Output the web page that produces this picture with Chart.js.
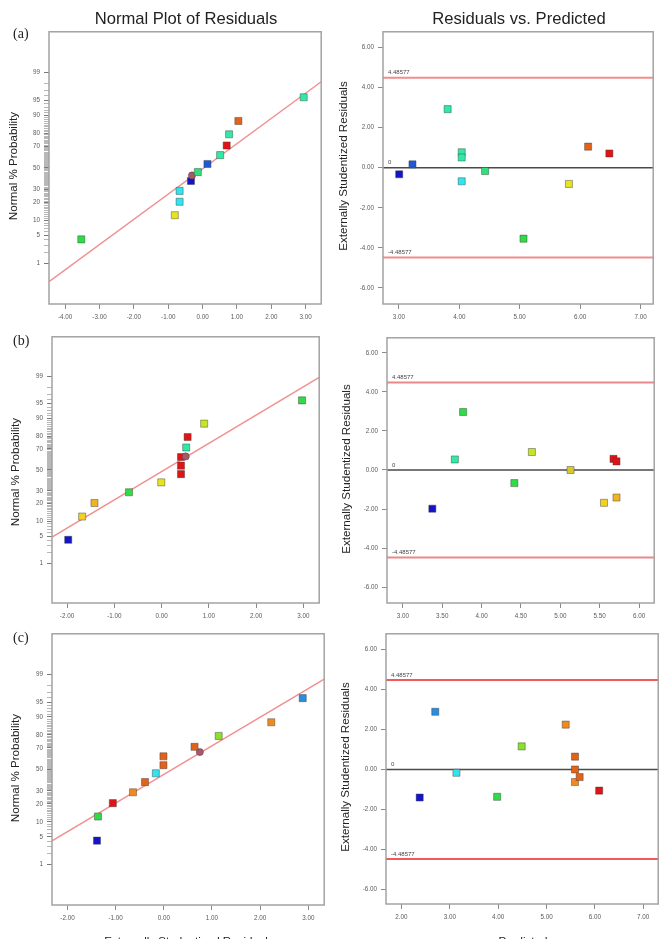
<!DOCTYPE html>
<html>
<head>
<meta charset="utf-8">
<script src="https://cdn.jsdelivr.net/npm/chart.js@4.4.1/dist/chart.umd.min.js"></script>
<style>
  html, body { margin:0; padding:0; background:#fff; width:665px; height:939px; overflow:hidden; }
  #root { position:relative; width:665px; height:939px; }
  canvas { position:absolute; }
  .t { position:absolute; white-space:nowrap; line-height:1; color:#222; font-family:"Liberation Sans", Arial, sans-serif; z-index:2; }
</style>
</head>
<body>
<div id="root"></div>
<script>
// ---------------- DATA ----------------
const probTickValues = Array.from({length: 99}, (_, i) => i + 1); // tick marks every 1 %
const probTickLabels = [1, 5, 10, 20, 30, 50, 70, 80, 90, 95, 99];
const limitValues = [4.48577, -4.48577];
const limitLabels = ["4.48577", "-4.48577"];
const residTicks = [-6, -4, -2, 0, 2, 4, 6];

// (a)
const aNormRes  = [-3.53, -0.81, -0.67, -0.67, -0.34, -0.31, -0.14, 0.14, 0.51, 0.70, 0.77, 1.04, 2.94];
const aNormProb = [4.1, 12.5, 20.5, 28.8, 37.5, 42.7, 45.9, 53.8, 62.2, 70.7, 79.3, 87.3, 95.7];
const aLineRes  = [-4.47, 3.45];
const aLineProb = [0.284, 98.19];
const aPred     = [3.005, 3.225, 3.807, 4.04, 4.04, 4.04, 4.427, 5.063, 5.815, 6.133, 6.484];
const aPredRes  = [-0.33, 0.165, 2.92, 0.77, 0.51, -0.68, -0.165, -3.54, -0.81, 1.05, 0.71];
const aNormXTicks = [-4, -3, -2, -1, 0, 1, 2, 3];
const aPredXTicks = [3, 4, 5, 6, 7];

// (b)
const bNormRes  = [-1.975, -1.68, -1.42, -0.69, -0.007, 0.41, 0.41, 0.41, 0.51, 0.52, 0.55, 0.90, 2.97];
const bNormProb = [4.1, 12.3, 20.5, 28.9, 37.8, 45.8, 54.2, 62.5, 63.1, 71.1, 79.3, 87.5, 95.8];
const bLineRes  = [-2.318, 3.333];
const bLineProb = [4.72, 98.93];
const bPred     = [3.374, 3.66, 3.765, 4.416, 4.639, 5.13, 5.555, 5.714, 5.676, 5.714];
const bPredRes  = [-1.98, 0.54, 2.97, -0.67, 0.92, 0.0, -1.68, -1.41, 0.57, 0.44];
const bNormXTicks = [-2, -1, 0, 1, 2, 3];
const bPredXTicks = [3, 3.5, 4, 4.5, 5, 5.5, 6];

// (c)
const cNormRes  = [-1.387, -1.367, -1.058, -0.639, -0.39, -0.165, -0.007, -0.007, 0.749, 0.639, 1.14, 2.232, 2.885];
const cNormProb = [4.1, 12.5, 20.5, 28.8, 37.8, 46.2, 54.1, 62.5, 66.4, 70.9, 79.3, 87.5, 95.9];
const cLineRes  = [-2.321, 3.331];
const cLineProb = [4.07, 98.63];
const cPred     = [2.377, 2.699, 3.137, 3.979, 4.486, 5.397, 5.589, 5.589, 5.589, 5.685, 6.089];
const cPredRes  = [-1.405, 2.89, -0.165, -1.37, 1.157, 2.248, 0.645, 0.0, -0.628, -0.38, -1.058];
const cNormXTicks = [-2, -1, 0, 1, 2, 3];
const cPredXTicks = [2, 3, 4, 5, 6, 7];

// ---------------- STYLES ----------------
const C = {
  darkBlue:'#1414c8', blue:'#1e5ad6', sky:'#2a8ee0', cyan:'#30e4f0', teal:'#32e8a6', greenTeal:'#30e07a',
  green:'#2edc46', lime:'#8ae02a', yellowGreen:'#c8e428', yellow:'#e6e41e', olive:'#d8c82a', goldYellow:'#f0d21e',
  gold:'#f0b41e', orange:'#f08a20', darkOrange:'#e2621a', red:'#e01414', circle:'#a85868'
};
const aNormColors = [C.green, C.yellow, C.cyan, C.cyan, C.darkBlue, C.circle, C.greenTeal, C.blue, C.teal, C.red, C.teal, C.darkOrange, C.teal];
const aPredColors = [C.darkBlue, C.blue, C.teal, C.teal, C.teal, C.cyan, C.greenTeal, C.green, C.yellow, C.darkOrange, C.red];
const bNormColors = [C.darkBlue, C.goldYellow, C.gold, C.green, C.yellow, C.red, C.red, C.red, C.circle, C.teal, C.red, C.yellowGreen, C.green];
const bPredColors = [C.darkBlue, C.teal, C.green, C.green, C.yellowGreen, C.olive, C.goldYellow, C.gold, C.red, C.red];
const cNormColors = [C.darkBlue, C.green, C.red, C.orange, C.darkOrange, C.cyan, C.darkOrange, C.darkOrange, C.circle, C.darkOrange, C.lime, C.orange, C.sky];
const cPredColors = [C.darkBlue, C.sky, C.cyan, C.green, C.lime, C.orange, C.darkOrange, C.darkOrange, C.orange, C.darkOrange, C.red];

const FONT = '"Liberation Sans", Arial, sans-serif';
Chart.defaults.font.family = FONT;

// inverse standard normal CDF (probit) used for the normal-probability axis
function invNorm(p){
  const a=[-3.969683028665376e+01,2.209460984245205e+02,-2.759285104469687e+02,1.383577518672690e+02,-3.066479806614716e+01,2.506628277459239e+00];
  const b=[-5.447609879822406e+01,1.615858368580409e+02,-1.556989798598866e+02,6.680131188771972e+01,-1.328068155288572e+01];
  const c=[-7.784894002430293e-03,-3.223964580411365e-01,-2.400758277161838e+00,-2.549671010115652e+00,4.374664141464968e+00,2.938163982698783e+00];
  const d=[7.784695709041462e-03,3.224671290700398e-01,2.445134137142996e+00,3.754408661907416e+00];
  const pl=0.02425, ph=1-pl; let q,r;
  if(p<pl){q=Math.sqrt(-2*Math.log(p));return (((((c[0]*q+c[1])*q+c[2])*q+c[3])*q+c[4])*q+c[5])/((((d[0]*q+d[1])*q+d[2])*q+d[3])*q+1);}
  if(p<=ph){q=p-0.5;r=q*q;return (((((a[0]*r+a[1])*r+a[2])*r+a[3])*r+a[4])*r+a[5])*q/(((((b[0]*r+b[1])*r+b[2])*r+b[3])*r+b[4])*r+1);}
  q=Math.sqrt(-2*Math.log(1-p));return -(((((c[0]*q+c[1])*q+c[2])*q+c[3])*q+c[4])*q+c[5])/((((d[0]*q+d[1])*q+d[2])*q+d[3])*q+1);
}

// ---------------- LAYOUT HELPERS ----------------
const root = document.getElementById('root');
const PADL = 36, PADB = 24, PADT = 4, PADR = 4;
const TICKFONT = {size: 6.3, family: FONT};
const TICKCOLOR = '#5a5a5a';

function addText(txt, x, y, opts){
  const d = document.createElement('div');
  d.className = 't';
  d.textContent = txt;
  d.style.fontSize = (opts.size || 12) + 'px';
  if (opts.family) d.style.fontFamily = opts.family;
  d.style.left = x + 'px';
  d.style.top = y + 'px';
  let tr = 'translate(-50%,-50%)';
  if (opts.rotate) tr += ' rotate(-90deg)';
  if (opts.anchor === 'left') tr = 'translate(0,-50%)';
  d.style.transform = tr;
  root.appendChild(d);
}

const boxPlugin = {
  id:'boxFrame',
  afterDraw(chart){
    const {ctx, chartArea:a} = chart;
    ctx.save();
    ctx.strokeStyle = '#a3a3a3';
    ctx.lineWidth = 1.5;
    ctx.strokeRect(a.left, a.top, a.right - a.left, a.bottom - a.top);
    ctx.restore();
  }
};

function refLinePlugin(limitColor){
  return {
    id:'refLines',
    beforeDatasetsDraw(chart){
      const {ctx, chartArea:a, scales:{y}} = chart;
      ctx.save();
      ctx.font = '6px ' + FONT;
      ctx.textBaseline = 'bottom';
      ctx.textAlign = 'left';
      limitValues.forEach((v, i) => {
        const py = y.getPixelForValue(v);
        ctx.strokeStyle = limitColor; ctx.lineWidth = 2;
        ctx.beginPath(); ctx.moveTo(a.left, py); ctx.lineTo(a.right, py); ctx.stroke();
        ctx.fillStyle = '#444';
        ctx.fillText(limitLabels[i], a.left + 5, py - 2);
      });
      const pz = y.getPixelForValue(0);
      ctx.strokeStyle = '#4a4a4a'; ctx.lineWidth = 1.5;
      ctx.beginPath(); ctx.moveTo(a.left, pz); ctx.lineTo(a.right, pz); ctx.stroke();
      ctx.fillStyle = '#444';
      ctx.fillText('0', a.left + 5, pz - 2);
      ctx.restore();
    }
  };
}

function makeCanvas(box){
  const cv = document.createElement('canvas');
  const w = (box.r - box.l) + PADL + PADR;
  const h = (box.b - box.t) + PADT + PADB;
  cv.width = w; cv.height = h;
  cv.style.width = w + 'px'; cv.style.height = h + 'px';
  cv.style.left = (box.l - PADL) + 'px';
  cv.style.top = (box.t - PADT) + 'px';
  root.appendChild(cv);
  return cv;
}

function xAxis(min, max, ticks){
  return {
    type:'linear', min, max,
    afterBuildTicks: s => { s.ticks = ticks.map(v => ({value: v})); },
    afterFit: s => { s.height = PADB; },
    ticks:{ autoSkip:false, maxRotation:0, padding:4, font:TICKFONT, color:TICKCOLOR, callback: v => Number(v).toFixed(2) },
    grid:{ drawOnChartArea:false, tickLength:5, tickColor:'#8a8a8a', tickWidth:1 },
    border:{ display:false }
  };
}

function pointStyles(colors){
  return {
    pointStyle: colors.map(c => c === C.circle ? 'circle' : 'rect'),
    pointRadius: colors.map(c => c === C.circle ? 3.6 : 5),
    backgroundColor: colors,
    borderColor: 'rgba(60,60,60,0.55)',
    borderWidth: 0.8
  };
}

const isMajorProb = i => probTickLabels.includes(probTickValues[i]);

function normalPlot(box, res, prob, colors, lineRes, lineProb, xmin, xmax, xticks){
  const cv = makeCanvas(box);
  return new Chart(cv, {
    type:'scatter',
    data:{ datasets:[
      { type:'line', data: lineRes.map((x, i) => ({x, y: invNorm(lineProb[i] / 100)})),
        borderColor:'#f09090', borderWidth:1.5, pointRadius:0, fill:false, order:2 },
      Object.assign({ data: res.map((x, i) => ({x, y: invNorm(prob[i] / 100)})), order:1 }, pointStyles(colors))
    ]},
    options:{
      animation:false, responsive:false, events:[], devicePixelRatio:1,
      layout:{ padding:{ top:PADT, right:PADR, left:0, bottom:0 } },
      plugins:{ legend:{display:false}, tooltip:{enabled:false} },
      scales:{
        x: xAxis(xmin, xmax, xticks),
        y:{
          type:'linear', min:-3.31, max:3.31,
          afterBuildTicks: s => { s.ticks = probTickValues.map(p => ({value: invNorm(p / 100)})); },
          afterFit: s => { s.width = PADL; },
          ticks:{ autoSkip:false, padding:4, font:TICKFONT, color:TICKCOLOR,
                  callback: (v, i) => isMajorProb(i) ? String(probTickValues[i]) : '' },
          grid:{ drawOnChartArea:false, tickLength:5,
                 tickColor: ctx => isMajorProb(ctx.index) ? '#7a7a7a' : '#9a9a9a',
                 tickWidth: ctx => isMajorProb(ctx.index) ? 1 : 0.7 },
          border:{ display:false }
        }
      }
    },
    plugins:[boxPlugin]
  });
}

function residPlot(box, pred, res, colors, xmin, xmax, xticks, ymin, ymax, limitColor){
  const cv = makeCanvas(box);
  return new Chart(cv, {
    type:'scatter',
    data:{ datasets:[ Object.assign({ data: pred.map((x, i) => ({x, y: res[i]})) }, pointStyles(colors)) ] },
    options:{
      animation:false, responsive:false, events:[], devicePixelRatio:1,
      layout:{ padding:{ top:PADT, right:PADR, left:0, bottom:0 } },
      plugins:{ legend:{display:false}, tooltip:{enabled:false} },
      scales:{
        x: xAxis(xmin, xmax, xticks),
        y:{
          type:'linear', min:ymin, max:ymax,
          afterBuildTicks: s => { s.ticks = residTicks.map(v => ({value: v})); },
          afterFit: s => { s.width = PADL; },
          ticks:{ autoSkip:false, padding:4, font:TICKFONT, color:TICKCOLOR, callback: v => Number(v).toFixed(2) },
          grid:{ drawOnChartArea:false, tickLength:5, tickColor:'#8a8a8a', tickWidth:1 },
          border:{ display:false }
        }
      }
    },
    plugins:[refLinePlugin(limitColor), boxPlugin]
  });
}

// ---------------- PANELS ----------------
const boxes = {
  aL:{l:49, t:28, r:323, b:304}, aR:{l:383, t:28, r:655, b:304},
  bL:{l:52, t:333, r:321, b:603}, bR:{l:387, t:334, r:656, b:603},
  cL:{l:52, t:630, r:326, b:905}, cR:{l:386, t:630, r:660, b:904}
};

normalPlot(boxes.aL, aNormRes, aNormProb, aNormColors, aLineRes, aLineProb, -4.47, 3.45, aNormXTicks);
residPlot(boxes.aR, aPred, aPredRes, aPredColors, 2.737, 7.21, aPredXTicks, -6.8, 6.78, '#f28e8a');
normalPlot(boxes.bL, bNormRes, bNormProb, bNormColors, bLineRes, bLineProb, -2.318, 3.333, bNormXTicks);
residPlot(boxes.bR, bPred, bPredRes, bPredColors, 2.798, 6.193, bPredXTicks, -6.81, 6.77, '#e88a88');
normalPlot(boxes.cL, cNormRes, cNormProb, cNormColors, cLineRes, cLineProb, -2.321, 3.331, cNormXTicks);
residPlot(boxes.cR, cPred, cPredRes, cPredColors, 1.68, 7.31, cPredXTicks, -6.74, 6.8, '#f05a5a');

// ---------------- TEXT ----------------
const cx = b => (b.l + b.r) / 2, cy = b => (b.t + b.b) / 2;
addText('Normal Plot of Residuals', cx(boxes.aL), 18.5, {size:16.6});
addText('Residuals vs. Predicted', cx(boxes.aR), 18.5, {size:16.6});

const SERIF = '"Liberation Serif", "DejaVu Serif", serif';
addText('(a)', 13, 34, {size:14, family:SERIF, anchor:'left'});
addText('(b)', 13, 341, {size:14, family:SERIF, anchor:'left'});
addText('(c)', 13, 638, {size:14, family:SERIF, anchor:'left'});

addText('Normal % Probability', 13, cy(boxes.aL), {size:11.6, rotate:true});
addText('Normal % Probability', 15, cy(boxes.bL) + 4, {size:11.6, rotate:true});
addText('Normal % Probability', 15, cy(boxes.cL), {size:11.6, rotate:true});
addText('Externally Studentized Residuals', 343, cy(boxes.aR), {size:11.6, rotate:true});
addText('Externally Studentized Residuals', 346, cy(boxes.bR), {size:11.6, rotate:true});
addText('Externally Studentized Residuals', 345, cy(boxes.cR), {size:11.6, rotate:true});

addText('Externally Studentized Residuals', cx(boxes.cL), 940.5, {size:11.6});
addText('Predicted', cx(boxes.cR), 940.5, {size:11.6});
</script>
</body>
</html>
